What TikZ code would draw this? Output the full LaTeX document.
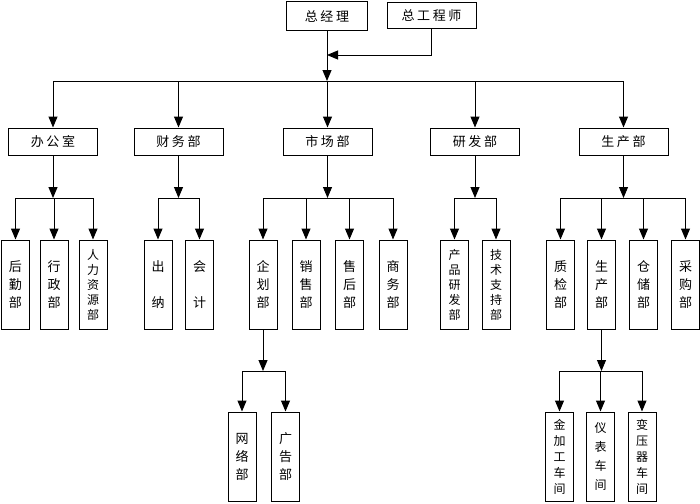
\documentclass[tikz,border=0pt]{standalone}
\usepackage{fontspec}
\setmainfont{Noto Sans CJK SC}
\newfontfamily\spaced[LetterSpace=20]{Noto Sans CJK SC}
\usetikzlibrary{arrows.meta,positioning}

\begin{document}
\begin{tikzpicture}[
    x=1pt, y=-1pt,
    box/.style={rectangle, draw, line width=1pt, minimum width=89pt, minimum height=27pt, inner sep=0pt, font=\spaced\fontsize{13}{15}\selectfont},
    leaf/.style={rectangle, draw, line width=1pt, minimum width=28pt, minimum height=89pt, inner sep=0pt, align=center, font=\fontsize{13}{18}\selectfont},
    tight/.style={font=\fontsize{12}{15}\selectfont},
    mid/.style={font=\fontsize{12}{16}\selectfont},
    arrow/.style={-{Triangle[length=11pt,width=9pt]}, line width=1pt},
    bus/.style={line width=1pt}
]
    \useasboundingbox (0,0) rectangle (700,503);

    % Top: managers
    \node[box, minimum width=81pt, minimum height=29pt] (zjl) at (327,16) {总经理};
    \node[box, minimum height=26pt] (zgcs) at (431.5,16) {总工程师};

    % Level 2: departments
    \node[box] (bgs) at (53,141.5) {办公室};
    \node[box] (cwb) at (178.5,141.5) {财务部};
    \node[box] (scb) at (327.5,141.5) {市场部};
    \node[box] (yfb) at (475,141.5) {研发部};
    \node[box] (sc) at (623.5,141.5) {生产部};

    % Level 3: sections
    \node[leaf] (hq) at (15.5,284.5) {后\\勤\\部};
    \node[leaf] (xz) at (54,284.5) {行\\政\\部};
    \node[leaf, tight] (rl) at (93,284.5) {人\\力\\资\\源\\部};
    \node[leaf] (cn) at (158,284.5) {出\\[18pt]纳};
    \node[leaf] (kj) at (199.5,284.5) {会\\[18pt]计};
    \node[leaf] (qh) at (263,284.5) {企\\划\\部};
    \node[leaf] (xs) at (306,284.5) {销\\售\\部};
    \node[leaf] (sh) at (349.5,284.5) {售\\后\\部};
    \node[leaf] (sw) at (393,284.5) {商\\务\\部};
    \node[leaf, tight] (cp) at (454.5,284.5) {产\\品\\研\\发\\部};
    \node[leaf, tight] (js) at (496,284.5) {技\\术\\支\\持\\部};
    \node[leaf] (zj) at (560.5,284.5) {质\\检\\部};
    \node[leaf] (scd) at (601.5,284.5) {生\\产\\部};
    \node[leaf] (cc) at (643.5,284.5) {仓\\储\\部};
    \node[leaf] (cg) at (685.5,284.5) {采\\购\\部};

    % Level 4: units
    \node[leaf] (wl) at (242,456.5) {网\\络\\部};
    \node[leaf] (gg) at (285.5,456.5) {广\\告\\部};
    \node[leaf, mid] (jjg) at (559.5,456.5) {金\\加\\工\\车\\间};
    \node[leaf, font=\fontsize{12}{19}\selectfont] (yb) at (600.5,456.5) {仪\\表\\车\\间};
    \node[leaf, mid] (byq) at (642,456.5) {变\\压\\器\\车\\间};

    % Bus lines
    \coordinate (top) at (327,81);
    \coordinate (join) at (327,55);
    \coordinate (b1) at (0,198);
    \coordinate (b2) at (0,371);

    % Arrows: top
    \draw[arrow] (zjl) -- (top);
    \draw[arrow] (zgcs) |- (join);
    \draw[bus] (top -| bgs) -- (top -| sc);
    \foreach \d in {bgs,cwb,scb,yfb,sc}
        \draw[arrow] (top -| \d) -- (\d);

    % Arrows: departments
    \draw[arrow] (bgs) -- (bgs |- b1);
    \draw[bus] (b1 -| hq) -- (b1 -| rl);
    \foreach \c in {hq,xz,rl}
        \draw[arrow] (b1 -| \c) -- (\c);

    \draw[arrow] (cwb) -- (cwb |- b1);
    \draw[bus] (b1 -| cn) -- (b1 -| kj);
    \foreach \c in {cn,kj}
        \draw[arrow] (b1 -| \c) -- (\c);

    \draw[arrow] (scb) -- (scb |- b1);
    \draw[bus] (b1 -| qh) -- (b1 -| sw);
    \foreach \c in {qh,xs,sh,sw}
        \draw[arrow] (b1 -| \c) -- (\c);

    \draw[arrow] (yfb) -- (yfb |- b1);
    \draw[bus] (b1 -| cp) -- (b1 -| js);
    \foreach \c in {cp,js}
        \draw[arrow] (b1 -| \c) -- (\c);

    \draw[arrow] (sc) -- (sc |- b1);
    \draw[bus] (b1 -| zj) -- (b1 -| cg);
    \foreach \c in {zj,scd,cc,cg}
        \draw[arrow] (b1 -| \c) -- (\c);

    % Arrows: sections
    \draw[arrow] (qh) -- (qh |- b2);
    \draw[bus] (b2 -| wl) -- (b2 -| gg);
    \foreach \c in {wl,gg}
        \draw[arrow] (b2 -| \c) -- (\c);

    \draw[arrow] (scd) -- (scd |- b2);
    \draw[bus] (b2 -| jjg) -- (b2 -| byq);
    \foreach \c in {jjg,yb,byq}
        \draw[arrow] (b2 -| \c) -- (\c);
\end{tikzpicture}
\end{document}
